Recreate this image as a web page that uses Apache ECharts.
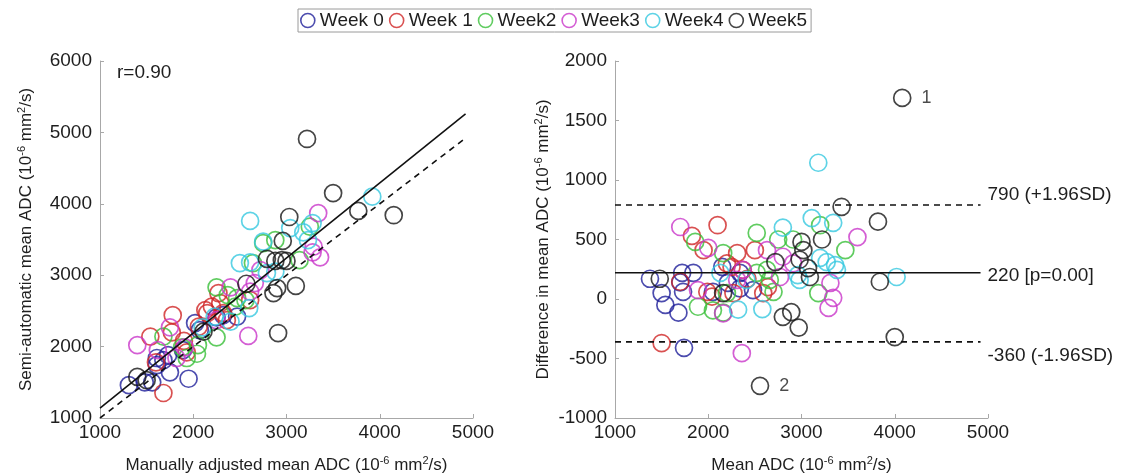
<!DOCTYPE html>
<html>
<head>
<meta charset="utf-8">
<title>ADC agreement: semi-automatic vs manually adjusted</title>
<script src="https://cdn.jsdelivr.net/npm/echarts@6/dist/echarts.min.js"></script>
<style>
  html, body { margin: 0; padding: 0; background: #fff; }
  #chart { width: 1122px; height: 476px; }
</style>
</head>
<body>
<div id="chart"></div>
<script>
// Series names and colours (one per scan week)
const weekNames = ['Week 0', 'Week 1', 'Week2', 'Week3', 'Week4', 'Week5'];
const weekColors = ['#1f1f9a', '#d02626', '#38bf38', '#c936c9', '#36c8e0', '#161616'];

// Scatter: manually adjusted mean ADC (x) vs semi-automatic mean ADC (y), 10^-6 mm^2/s
const scatterWeek0 = [[1310,1460],[1480,1500],[1560,1500],[1610,1840],[1610,1740],[1680,1810],[1730,1880],[1750,1640],[1950,1550],[1890,1950],[2020,2330],[2070,2230],[2250,2410],[2320,2440],[2470,2420]];
const scatterWeek1 = [[1680,1350],[1540,2140],[1600,1780],[1770,2200],[1780,2440],[1900,2080],[1930,1920],[2060,2280],[2130,2510],[2150,2470],[2200,2560],[2270,2750],[2290,2610],[2320,2470],[2360,2370],[2610,2650]];
const scatterWeek2 = [[1680,2140],[1880,1990],[1930,1840],[2040,1900],[2050,2020],[2250,2130],[2250,2830],[2370,2720],[2450,2560],[2470,2680],[2560,2650],[2640,3170],[2750,3450],[2880,3490],[3140,3210],[3250,3680]];
const scatterWeek3 = [[1400,2020],[1620,1950],[1750,2270],[1820,1840],[1910,1990],[2250,2370],[2400,2830],[2590,2150],[2610,2770],[2660,2890],[2720,3070],[3290,3400],[3280,3320],[3360,3250],[3340,3870]];
const scatterWeek4 = [[2100,2270],[2230,2420],[2400,2350],[2500,3170],[2600,2540],[2610,3180],[2610,3760],[2750,3470],[2790,3030],[2880,3050],[3040,3660],[3180,3600],[3230,3490],[3280,3730],[3920,4100]];
const scatterWeek5 = [[1400,1575],[1500,1530],[2110,2210],[2570,2880],[2790,3230],[2880,3200],[2950,3210],[3000,3200],[2860,2750],[2900,2820],[3100,2850],[2910,2190],[2960,3480],[3030,3815],[3220,4908],[3500,4150],[3770,3900],[4150,3840]];

// Regression fit and line of identity (end points)
const fitLine = [[1000,1140],[4920,5260]];
const identityLine = [[1000,1000],[4920,4920]];
const corrText = 'r=0.90';

// Bland-Altman: mean ADC (x) vs difference in mean ADC (y)
const baWeek0 = [[1375,170],[1500,50],[1540,-50],[1680,-115],[1740,-410],[1700,140],[1720,220],[1840,220],[1730,60],[2050,60],[2150,270],[2210,135],[2340,90],[2340,220],[2480,75]];
const baWeek1 = [[1500,-370],[1700,145],[1825,530],[1950,410],[1990,60],[2040,20],[2100,620],[2250,270],[2270,50],[2310,385],[2370,245],[2500,410],[2590,50],[2200,300],[2420,170],[2640,100]];
const baWeek2 = [[1860,480],[1890,-65],[2050,-95],[2160,385],[2160,-115],[2200,50],[2520,555],[2520,220],[2630,245],[2660,160],[2700,60],[2750,500],[2910,500],[3180,50],[3200,620],[3470,410]];
const baWeek3 = [[1700,605],[1890,75],[2000,430],[2160,-120],[2310,160],[2360,-455],[2370,245],[2630,410],[2770,185],[2800,355],[2910,300],[3290,-75],[3310,135],[3340,10],[3600,520]];
const baWeek4 = [[2130,220],[2320,-90],[2410,160],[2580,-85],[2800,600],[2960,200],[2980,160],[3110,680],[3180,1145],[3200,345],[3270,310],[3340,640],[3360,285],[3380,245],[4020,185]];
const baWeek5 = [[1480,170],[2160,50],[2720,310],[2800,-150],[2890,-110],[2970,-240],[3000,480],[3020,410],[2980,330],[3070,260],[3090,185],[3220,500],[3430,775],[3820,650],[3840,145],[4000,-320],[4080,1690],[2555,-730]];
// Numbered outliers in Week5 of the Bland-Altman plot: [x, y, tag]
const baOutlierTags = [[4080,1690,'1'],[2555,-730,'2']];

// Mean bias and limits of agreement
const baLevels = [790, 220, -360];
const baLevelLabels = ['790 (+1.96SD)', '220 [p=0.00]', '-360 (-1.96SD)'];
const baLevelStyles = ['dashed', 'solid', 'dashed'];
const baLevelLabelShift = [-10, 3, 14];
const baLineSpan = [1000, 4920];

// Axis ticks
const scatterXTicks = [1000, 5000, 1000];
const scatterYTicks = [1000, 6000, 1000];
const baXTicks = [1000, 5000, 1000];
const baYTicks = [-1000, 2000, 500];

const scatterSets = [scatterWeek0, scatterWeek1, scatterWeek2, scatterWeek3, scatterWeek4, scatterWeek5];
const baSets = [baWeek0, baWeek1, baWeek2, baWeek3, baWeek4, baWeek5];

const FONT = '"Liberation Sans", Arial, Helvetica, sans-serif';
const TEXT = '#1e1e1e';
const AXIS_GRAY = '#a8a8a8';
const MARK_SIZE = 17;

const unitRich = {
  t: { fontSize: 17, color: TEXT, fontFamily: FONT, lineHeight: 20 },
  s: { fontSize: 11, color: TEXT, fontFamily: FONT, verticalAlign: 'top', lineHeight: 11 }
};
function unitName(prefix) {
  return '{t|' + prefix + ' (10}{s|-6}{t| mm}{s|2}{t|/s)}';
}

function valueAxis(gridIndex, ticks, name, nameGap, isY) {
  return {
    type: 'value',
    gridIndex: gridIndex,
    min: ticks[0], max: ticks[1], interval: ticks[2],
    name: name,
    nameLocation: 'middle',
    nameGap: nameGap,
    nameRotate: isY ? 90 : 0,
    nameTextStyle: { rich: unitRich },
    axisLine: { show: true, onZero: false, lineStyle: { color: AXIS_GRAY, width: 1 } },
    axisTick: { show: true, inside: true, length: 4, lineStyle: { color: AXIS_GRAY } },
    axisLabel: {
      color: TEXT, fontSize: 19, fontFamily: FONT, margin: isY ? 8 : 5,
      formatter: function (v) { return String(v); }
    },
    splitLine: { show: false }
  };
}

const series = [];
weekNames.forEach(function (name, i) {
  const style = { color: 'transparent', borderColor: weekColors[i], borderWidth: 1.7 };
  series.push({
    name: name, type: 'scatter', xAxisIndex: 0, yAxisIndex: 0,
    symbol: 'circle', symbolSize: MARK_SIZE, itemStyle: style,
    data: scatterSets[i]
  });
  series.push({
    name: name, type: 'scatter', xAxisIndex: 1, yAxisIndex: 1,
    symbol: 'circle', symbolSize: MARK_SIZE, itemStyle: style,
    data: baSets[i].map(function (p) {
      const tag = baOutlierTags.find(function (t) { return t[0] === p[0] && t[1] === p[1]; });
      if (!tag) return p;
      return {
        value: p,
        label: { show: true, position: 'right', distance: 10, formatter: tag[2],
                 color: TEXT, fontSize: 18, fontFamily: FONT }
      };
    })
  });
});

// Regression line (solid) and identity line (dashed)
series.push({
  type: 'line', xAxisIndex: 0, yAxisIndex: 0, data: fitLine,
  symbol: 'none', silent: true,
  lineStyle: { color: '#111', width: 1.6, type: 'solid' }
});
series.push({
  type: 'line', xAxisIndex: 0, yAxisIndex: 0, data: identityLine,
  symbol: 'none', silent: true,
  lineStyle: { color: '#111', width: 1.6, type: [6, 5] }
});

// Bias and limits of agreement
baLevels.forEach(function (lvl, i) {
  series.push({
    type: 'line', xAxisIndex: 1, yAxisIndex: 1,
    data: baLineSpan.map(function (x) { return [x, lvl]; }),
    symbol: 'none', silent: true,
    lineStyle: { color: '#111', width: 1.6, type: baLevelStyles[i] === 'dashed' ? [6, 5] : 'solid' },
    endLabel: {
      show: true, formatter: baLevelLabels[i], distance: 7,
      offset: [0, baLevelLabelShift[i]],
      color: TEXT, fontSize: 19, fontFamily: FONT
    }
  });
});

const chart = echarts.init(document.getElementById('chart'), null, { renderer: 'canvas' });
chart.setOption({
  animation: false,
  backgroundColor: '#fff',
  textStyle: { fontFamily: FONT },
  legend: {
    left: 298, top: 9,
    padding: [2, 4, 2, 2],
    itemGap: 5, itemWidth: 14, itemHeight: 14,
    borderColor: '#9a9a9a', borderWidth: 1,
    textStyle: { color: TEXT, fontSize: 19, fontFamily: FONT },
    data: weekNames.map(function (n, i) {
      return { name: n, icon: 'circle',
               itemStyle: { color: 'transparent', borderColor: weekColors[i], borderWidth: 1.6 } };
    })
  },
  grid: [
    { left: 100, top: 61, width: 373, height: 357, outerBoundsMode: 'none', containLabel: false },
    { left: 615, top: 61, width: 373, height: 357, outerBoundsMode: 'none', containLabel: false }
  ],
  xAxis: [
    valueAxis(0, scatterXTicks, unitName('Manually adjusted mean ADC'), 37, false),
    valueAxis(1, baXTicks, unitName('Mean ADC'), 37, false)
  ],
  yAxis: [
    valueAxis(0, scatterYTicks, unitName('Semi-automatic mean ADC'), 64, true),
    valueAxis(1, baYTicks, unitName('Difference in mean ADC'), 62, true)
  ],
  graphic: [{
    type: 'text', left: 117, top: 63,
    style: { text: corrText, fill: TEXT, fontSize: 19, fontFamily: FONT }
  }],
  series: series
});
</script>
</body>
</html>
